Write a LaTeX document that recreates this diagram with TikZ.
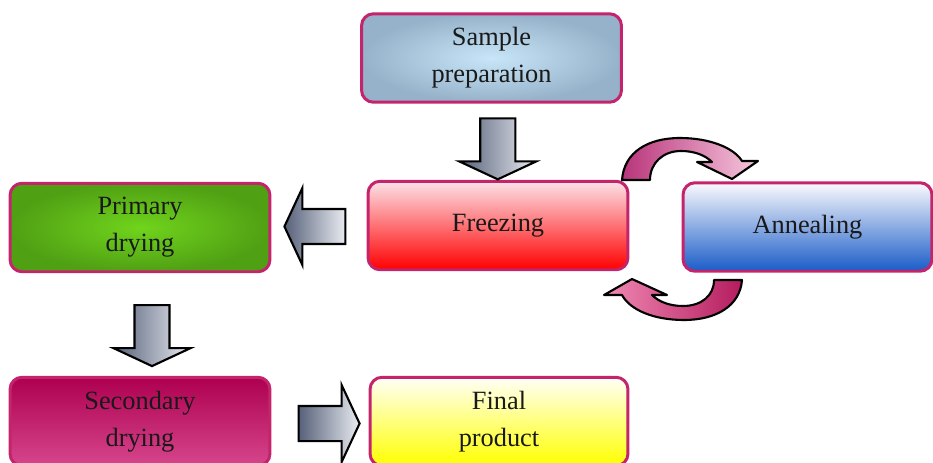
\documentclass[tikz,border=0pt]{standalone}
\usepackage{fontspec}
\setmainfont{Liberation Serif}
\usepackage{tikz}
\usetikzlibrary{calc, shapes.arrows, positioning}

\definecolor{boxline}{HTML}{C4246C}
\definecolor{arrowdark}{HTML}{566079}
\definecolor{arrowlight}{HTML}{E9ECF1}
\definecolor{curvedark}{HTML}{B8347A}
\definecolor{curvelight}{HTML}{F6C8DD}
\definecolor{curvedarkb}{HTML}{B41C5E}
\definecolor{curvelightb}{HTML}{F08AB4}

\tikzset{
  stepbox/.style={rectangle, rounded corners=0.24cm, draw=boxline, line width=1.7pt,
    minimum width=5.2cm, minimum height=1.77cm, align=center,
    font=\fontsize{15}{21}\selectfont, text=black!90},
  blockarrow/.style={single arrow, draw=black, line width=1.2pt, inner xsep=0pt,
    inner ysep=0.33cm, single arrow head extend=0.42cm, single arrow tip angle=130,
    minimum height=1.22cm, left color=arrowdark, right color=arrowlight},
  curvearrow/.style={draw=black, line width=1.2pt, line join=round}
}

\begin{document}
\begin{tikzpicture}[x=0.02cm, y=-0.02cm]
  \useasboundingbox (0,0) rectangle (933,463);

  % Kaesten
  \node[stepbox, inner color={rgb,255:red,200;green,230;blue,248}, outer color={rgb,255:red,150;green,178;blue,202}] (prep) at (491.5,58) {Sample\\preparation};
  \node[stepbox, top color={rgb,255:red,252;green,226;blue,232}, middle color={rgb,255:red,255;green,100;blue,112}, bottom color=red] (freeze) at (498,225.5) {Freezing};
  \node[stepbox, minimum width=4.98cm, top color={rgb,255:red,250;green,250;blue,253}, middle color={rgb,255:red,184;green,196;blue,230}, bottom color={rgb,255:red,26;green,92;blue,200}] (anneal) at (807.5,227) {Annealing};
  \node[stepbox, inner color={rgb,255:red,112;green,212;blue,28}, outer color={rgb,255:red,80;green,160;blue,20}] (primary) at (140,227.5) {Primary\\drying};
  \node[stepbox, top color={rgb,255:red,174;green,0;blue,80}, middle color={rgb,255:red,180;green,6;blue,86}, bottom color={rgb,255:red,214;green,70;blue,140}] (secondary) at (140,421.5) {Secondary\\drying};
  \node[stepbox, minimum width=5.16cm, top color={rgb,255:red,255;green,255;blue,248}, middle color={rgb,255:red,255;green,255;blue,150}, bottom color=yellow] (final) at (499,421.5) {Final\\product};

  % Blockpfeile
  \node[blockarrow, rotate=-90] (a1) at ($(prep.south)!0.5!(freeze.north)+(3,3)$) {};
  \node[blockarrow, rotate=180] (a2) at ($(freeze.west)!0.5!(primary.east)$) {};
  \node[blockarrow, rotate=-90] (a3) at ($(primary.south)!0.5!(secondary.north)+(12,7)$) {};
  \node[blockarrow] (a4) at ($(secondary.east)!0.5!(final.west)+(5,2)$) {};

  % gebogene Pfeile
  \shade[curvearrow, left color=curvedark, right color=curvelight]
    (622,180) .. controls (624,152) and (648,138) .. (680,138)
    .. controls (710,138) and (734,148) .. (742,161) -- (758,161) -- (732,179) -- (697,162) -- (712,162)
    .. controls (705,155) and (694,151) .. (681,151)
    .. controls (663,151) and (650,163) .. (650,180) -- cycle;
  \shade[curvearrow, left color=curvelightb, right color=curvedarkb]
    (742,280) .. controls (740,306) and (716,320) .. (684,320)
    .. controls (654,320) and (630,310) .. (622,295) -- (604,295) -- (632,279) -- (667,295) -- (652,295)
    .. controls (659,302) and (670,306) .. (683,306)
    .. controls (701,306) and (714,296) .. (714,280) -- cycle;
\end{tikzpicture}
\end{document}
